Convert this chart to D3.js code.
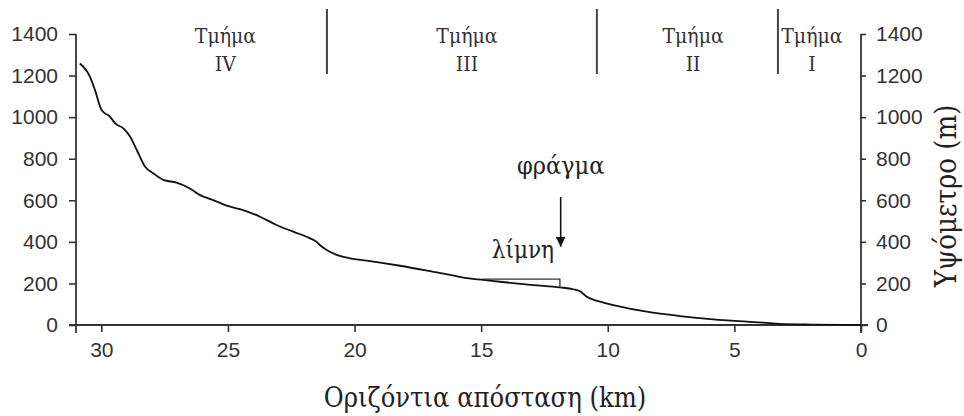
<!DOCTYPE html>
<html>
<head>
<meta charset="utf-8">
<script src="https://cdn.jsdelivr.net/npm/d3@7"></script>
<style>
  html, body { margin: 0; padding: 0; background: #fff; }
  svg { display: block; }
</style>
</head>
<body>
<svg id="chart" width="964" height="416"></svg>
<script>
// ---- data ----
const distanceKm = [30.85, 30.45, 30.25, 29.99, 29.66, 29.45, 29.13, 28.86, 28.6, 28.27, 27.95, 27.55, 27.03, 26.5, 26.1, 25.58, 25.05, 24.4, 23.73, 23.08, 22.42, 21.76, 21.5, 21.37, 21.1, 20.7, 20.18, 19.52, 18.2, 16.89, 16.23, 15.57, 14.92, 14.26, 12.94, 11.89, 11.36, 11.1, 10.83, 10.44, 10.31, 9.78, 8.46, 7.15, 5.83, 4.51, 3.86, 3.2, 1.9, 0];
const elevationM = [1258, 1195, 1130, 1034, 1002, 970, 946, 906, 842, 761, 730, 698, 685, 657, 625, 601, 574, 553, 521, 481, 449, 417, 400, 385, 361, 337, 321, 310, 285, 256, 241, 225, 217, 208, 192, 181, 172, 162, 136, 117, 112, 96, 64, 43, 27, 16, 11, 5, 2, 0];

const lakeKm = [14.95, 11.89, 11.89];
const lakeM = [221, 221, 181];

const sectionBounds = [21.09, 10.43, 3.28];
const sectionNames = ["IV", "III", "II", "I"];
const sectionCentersKm = [25.1, 15.56, 6.63, 1.94];
const sectionWord = "Τμήμα";

const xTicks = [30, 25, 20, 15, 10, 5, 0];
const yTicks = [0, 200, 400, 600, 800, 1000, 1200, 1400];

const damKm = 11.86;
const damArrowM = [616, 377];
const damLabel = "φράγμα";
const lakeLabel = "λίμνη";
const lakeLabelKm = 13.35;
const xTitle = "Οριζόντια απόσταση (km)";
const yTitle = "Υψόμετρο (m)";

// ---- layout ----
const svg = d3.select("#chart");
const x = d3.scaleLinear().domain([31.0, 0]).range([76, 861]);
const y = d3.scaleLinear().domain([0, 1400]).range([325, 34]);
const axisColor = "#333";
const sans = "'Liberation Sans', Arial, sans-serif";
const serif = "'DejaVu Serif Condensed', 'DejaVu Serif', serif";
const fmt = d3.format("d");

svg.append("defs").append("marker")
  .attr("id", "arrowhead")
  .attr("viewBox", "0 0 10 10")
  .attr("refX", 10).attr("refY", 5)
  .attr("markerWidth", 6).attr("markerHeight", 6)
  .attr("markerUnits", "strokeWidth")
  .attr("orient", "auto")
  .append("path").attr("d", "M0,0 L10,5 L0,10 Z").attr("fill", "#111");

// bottom axis
const gx = svg.append("g").attr("transform", `translate(0,${y(0)})`)
  .call(d3.axisBottom(x).tickValues(xTicks).tickSize(7).tickSizeOuter(0).tickFormat(fmt));
gx.select(".domain").remove();
gx.selectAll(".tick line").attr("stroke", axisColor).attr("stroke-width", 1.6);
gx.selectAll(".tick text").attr("font-family", sans).attr("font-size", 21).attr("fill", axisColor).attr("dy", "1.05em");
svg.append("line").attr("x1", x(31.0) - 7).attr("x2", x(0) + 7).attr("y1", y(0)).attr("y2", y(0))
  .attr("stroke", axisColor).attr("stroke-width", 1.8);

// left axis
const gl = svg.append("g").attr("transform", `translate(${x(31.0)},0)`)
  .call(d3.axisLeft(y).tickValues(yTicks).tickSize(7).tickSizeOuter(0).tickPadding(11).tickFormat(fmt));
gl.select(".domain").remove();
gl.selectAll(".tick line").attr("stroke", axisColor).attr("stroke-width", 1.6);
gl.selectAll(".tick text").attr("font-family", sans).attr("font-size", 21).attr("fill", axisColor);
svg.append("line").attr("x1", x(31.0)).attr("x2", x(31.0)).attr("y1", y(1400)).attr("y2", y(0) + 8)
  .attr("stroke", axisColor).attr("stroke-width", 1.8);

// right axis
const gr = svg.append("g").attr("transform", `translate(${x(0)},0)`)
  .call(d3.axisRight(y).tickValues(yTicks).tickSize(5).tickSizeOuter(0).tickPadding(10).tickFormat(fmt));
gr.select(".domain").remove();
gr.selectAll(".tick line").attr("stroke", axisColor).attr("stroke-width", 1.6);
gr.selectAll(".tick text").attr("font-family", sans).attr("font-size", 21).attr("fill", axisColor);
svg.append("line").attr("x1", x(0)).attr("x2", x(0)).attr("y1", y(1400)).attr("y2", y(0) + 8)
  .attr("stroke", axisColor).attr("stroke-width", 1.8);

// profile line
const profile = distanceKm.map((d, i) => [d, elevationM[i]]);
svg.append("path").datum(profile)
  .attr("d", d3.line().x(d => x(d[0])).y(d => y(d[1])).curve(d3.curveMonotoneX))
  .attr("fill", "none").attr("stroke", "#111").attr("stroke-width", 1.8);

// lake outline
const lake = lakeKm.map((d, i) => [d, lakeM[i]]);
svg.append("path").datum(lake)
  .attr("d", d3.line().x(d => x(d[0])).y(d => y(d[1])))
  .attr("fill", "none").attr("stroke", "#333").attr("stroke-width", 1.3);

// section dividers
svg.selectAll(".divider").data(sectionBounds).enter().append("line")
  .attr("x1", d => x(d)).attr("x2", d => x(d))
  .attr("y1", 9).attr("y2", 74)
  .attr("stroke", "#444").attr("stroke-width", 2);

// section labels
const sec = svg.selectAll(".sec").data(sectionNames).enter().append("g");
sec.append("text")
  .attr("x", (d, i) => x(sectionCentersKm[i])).attr("y", 43)
  .attr("text-anchor", "middle").attr("font-family", serif).attr("font-size", 21).attr("fill", "#333")
  .text(sectionWord);
sec.append("text")
  .attr("x", (d, i) => x(sectionCentersKm[i])).attr("y", 71)
  .attr("text-anchor", "middle").attr("font-family", serif).attr("font-size", 21).attr("fill", "#333")
  .text(d => d);

// dam arrow
svg.append("line")
  .attr("x1", x(damKm)).attr("x2", x(damKm))
  .attr("y1", y(damArrowM[0])).attr("y2", y(damArrowM[1]))
  .attr("stroke", "#111").attr("stroke-width", 1.6)
  .attr("marker-end", "url(#arrowhead)");
svg.append("text").attr("x", x(damKm)).attr("y", 174)
  .attr("text-anchor", "middle").attr("font-family", serif).attr("font-size", 25).attr("fill", "#222")
  .text(damLabel);
svg.append("text").attr("x", x(lakeLabelKm)).attr("y", 258)
  .attr("text-anchor", "middle").attr("font-family", serif).attr("font-size", 24).attr("fill", "#222")
  .text(lakeLabel);

// axis titles
svg.append("text").attr("x", 485).attr("y", 407)
  .attr("text-anchor", "middle").attr("font-family", serif).attr("font-size", 27).attr("fill", "#222")
  .text(xTitle);
svg.append("text").attr("transform", "translate(956,196) rotate(-90)")
  .attr("text-anchor", "middle").attr("font-family", serif).attr("font-size", 29).attr("fill", "#222")
  .text(yTitle);
</script>
</body>
</html>
